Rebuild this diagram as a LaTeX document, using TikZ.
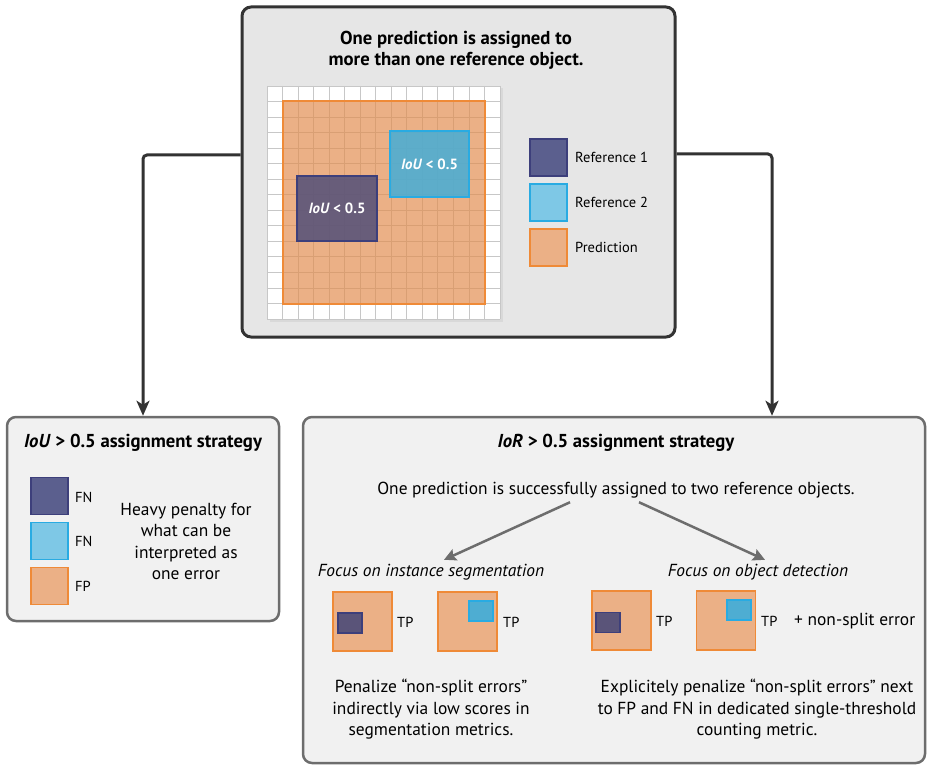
\documentclass[tikz,border=0pt]{standalone}
\usepackage{fontspec}
\setmainfont{PT Sans}
\usetikzlibrary{arrows.meta,positioning,calc}
\definecolor{refA}{HTML}{5B5F8E}
\definecolor{refAline}{HTML}{3D3F7B}
\definecolor{refAover}{HTML}{5A5479}
\definecolor{refB}{HTML}{7EC8E6}
\definecolor{refBline}{HTML}{29ABE2}
\definecolor{refBover}{HTML}{4EADD2}
\definecolor{pred}{HTML}{EBB086}
\definecolor{predline}{HTML}{EF8A37}
\definecolor{predgrid}{HTML}{D99F74}
\definecolor{boxgray}{HTML}{E6E6E6}
\definecolor{panelgray}{HTML}{F1F1F1}
\definecolor{framedark}{HTML}{333333}
\definecolor{framegray}{HTML}{6D6D6D}

\begin{document}
\begin{tikzpicture}[x=1pt,y=-1pt,
  panel/.style={draw=framegray,line width=2.5pt,fill=panelgray,rounded corners=9pt},
  legend/.style={minimum width=37pt,minimum height=37pt,line width=1.8pt,inner sep=0pt},
  minipred/.style={draw=predline,fill=pred,line width=1.8pt,minimum size=59pt,inner sep=0pt},
  minidark/.style={draw=refAline,fill=refAover,line width=1.5pt,minimum width=24pt,minimum height=20pt,inner sep=0pt},
  minilight/.style={draw=refBline,fill=refBover,line width=1.5pt,minimum width=24pt,minimum height=20pt,inner sep=0pt},
  conn/.style={draw=framedark,line width=3pt,rounded corners=4pt,
    -{Stealth[length=15pt,width=13pt,inset=4pt]}},
  split/.style={draw=framegray,line width=2.5pt,-{Stealth[length=12pt,width=12pt,inset=2pt]}},
  txt/.style={font=\fontsize{17.4}{21.5}\selectfont,align=center,inner sep=2pt},
  small/.style={font=\fontsize{14.5}{16}\selectfont,inner sep=0pt},
  head/.style={font=\bfseries\fontsize{18.7}{21}\selectfont,align=center},
  gridline/.style={draw=black!22,line width=0.8pt}]

  \useasboundingbox (0,0) rectangle (927,765);

  % Panels
  \node[draw=framedark,line width=3pt,fill=boxgray,rounded corners=9pt,
    minimum width=433pt,minimum height=330pt] (topbox) at (458.5,172) {};
  \node[panel,minimum width=272pt,minimum height=204pt] (ioubox) at (143,519) {};
  \node[panel,minimum width=622pt,minimum height=346pt] (iorbox) at (614,590) {};

  % Connectors
  \draw[conn] ([yshift=17pt]topbox.west) -| (ioubox.north);
  \draw[conn] ([yshift=18pt]topbox.east) -| ([xshift=158pt]iorbox.north);

  % Top panel
  \node[head] (toptitle) at (456,50.5) {One prediction is assigned to\\more than one reference object.};
  \fill[black!15] (269.5,88.5) rectangle (502.5,321.5);
  \fill[white] (267,86) rectangle (500,319);
  \fill[pred] (282.5,101.5) rectangle (484.5,303.5);
  \foreach \k in {0,...,15} {
    \draw[gridline] (267+\k*15.533,86) -- ++(0,233);
    \draw[gridline] (267,86+\k*15.533) -- ++(233,0);
  }
  \begin{scope}
    \clip (282.5,101.5) rectangle (484.5,303.5);
    \foreach \k in {0,...,15} {
      \draw[predgrid,line width=0.8pt] (267+\k*15.533,86) -- ++(0,233);
      \draw[predgrid,line width=0.8pt] (267,86+\k*15.533) -- ++(233,0);
    }
  \end{scope}
  \draw[predline,line width=2pt] (282.5,101.5) rectangle (484.5,303.5);
  \node[draw=refAline,fill=refAover,fill opacity=0.9,text opacity=1,line width=2pt,
    minimum width=80pt,minimum height=65pt,text=white,font=\bfseries\fontsize{14.8}{16}\selectfont]
    (refone) at (337,208.5) {\textit{IoU} < 0.5};
  \node[draw=refBline,fill=refBover,fill opacity=0.9,text opacity=1,line width=2pt,
    minimum width=79pt,minimum height=66pt,text=white,font=\bfseries\fontsize{14.8}{16}\selectfont]
    (reftwo) at (429.5,164) {\textit{IoU} < 0.5};

  % Legend
  \node[legend,draw=refAline,fill=refA] (legone) at (548.5,157.5) {};
  \node[legend,draw=refBline,fill=refB] (legtwo) at (548.5,202.5) {};
  \node[legend,draw=predline,fill=pred] (legpred) at (548.5,247.5) {};
  \node[small,anchor=west] at (575,157.5) {Reference 1};
  \node[small,anchor=west] at (575,202.5) {Reference 2};
  \node[small,anchor=west] at (575,247.5) {Prediction};

  % IoU panel
  \node[head] (ioutitle) at (143,443) {\textit{IoU} > 0.5 assignment strategy};
  \node[legend,draw=refAline,fill=refA] (fnone) at (49.5,496) {};
  \node[legend,draw=refBline,fill=refB] (fntwo) at (49.5,541) {};
  \node[legend,draw=predline,fill=pred] (fpone) at (49.5,586) {};
  \node[small,anchor=west] at (75,497) {FN};
  \node[small,anchor=west] at (75,541) {FN};
  \node[small,anchor=west] at (75,586) {FP};
  \node[txt] (penalty) at (186,541.5) {Heavy penalty for\\what can be\\interpreted as\\one error};

  % IoR panel
  \node[head] (iortitle) at (616,443) {\textit{IoR} > 0.5 assignment strategy};
  \node[txt] (assigned) at (616,490) {One prediction is successfully assigned to two reference objects.};
  \node[txt,font=\itshape\fontsize{17.4}{21.5}\selectfont] (segfocus) at (431,572) {Focus on instance segmentation};
  \node[txt,font=\itshape\fontsize{17.4}{21.5}\selectfont] (detfocus) at (758,572) {Focus on object detection};
  \draw[split] ([xshift=-46pt,yshift=-2pt]assigned.south) -- ([xshift=13pt,yshift=2pt]segfocus.north);
  \draw[split] ([xshift=23pt,yshift=-2pt]assigned.south) -- ([xshift=7pt,yshift=2pt]detfocus.north);

  \node[minipred] (segone) at (362.5,621.5) {};
  \node[minidark] at (350,623) {};
  \node[small,anchor=west] at (397,622) {TP};
  \node[minipred] (segtwo) at (467.5,621.5) {};
  \node[minilight] at (481,611) {};
  \node[small,anchor=west] at (503,622) {TP};
  \node[minipred] (detone) at (621.5,620.5) {};
  \node[minidark] at (608,622.5) {};
  \node[small,anchor=west] at (656,621) {TP};
  \node[minipred] (dettwo) at (726,620.5) {};
  \node[minilight] at (739,610) {};
  \node[small,anchor=west] at (761,621) {TP};
  \node[txt,anchor=west,inner sep=0pt] at (794,621) {+ non-split error};

  \node[txt] (segnote) at (431,709.5) {Penalize “non-split errors”\\indirectly via low scores in\\segmentation metrics.};
  \node[txt] (detnote) at (757,709.5) {Explicitely penalize “non-split errors” next\\to FP and FN in dedicated single-threshold\\counting metric.};
\end{tikzpicture}
\end{document}
